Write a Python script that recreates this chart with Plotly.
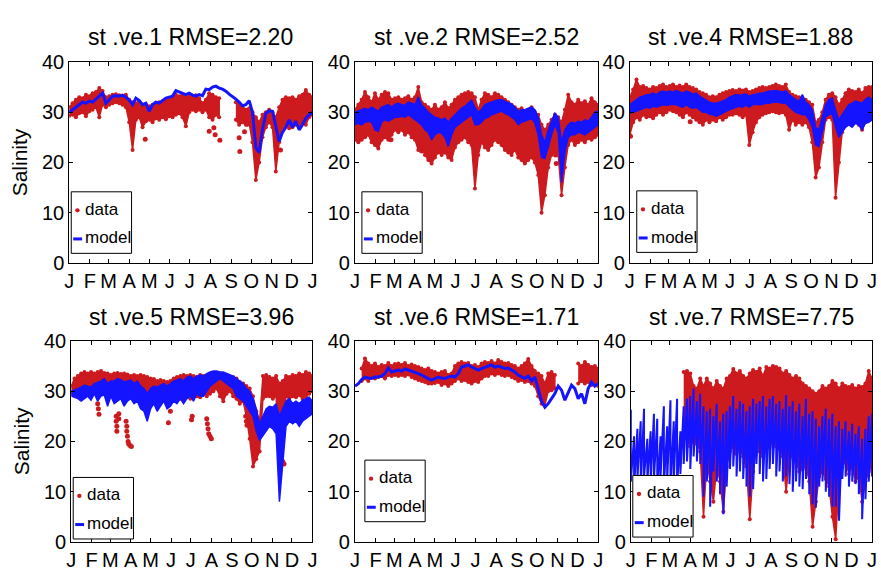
import plotly.graph_objects as go

W, H = 881, 575
N = None

DAYS = list(range(0, 366, 5))
MONTH_DAYS = [0, 31, 59, 90, 120, 151, 181, 212, 243, 273, 304, 334, 365]
MONTH_LABELS = ["J", "F", "M", "A", "M", "J", "J", "A", "S", "O", "N", "D", "J"]
Y_TICKS = [0, 10, 20, 30, 40]
LEGEND_LABELS = ["data", "model"]

TITLES = ["st .ve.1 RMSE=2.20", "st .ve.2 RMSE=2.52", "st .ve.4 RMSE=1.88",
          "st .ve.5 RMSE=3.96", "st .ve.6 RMSE=1.71", "st .ve.7 RMSE=7.75"]

# ---------------- st .ve.1 ----------------
S1_DATA_LO = [29.3, 29.5, 29.0, 29.8, 30.0, 29.2, 30.2, 30.5, 31.0, 29.0,
              31.5, 31.0, 31.5, 31.8, 32.0, 31.8, 31.5, 31.0, 28.0, 22.5,
              28.5, 29.0, 27.0, 28.2, 28.5, 28.0, 28.8, 28.5, 29.0, 28.6,
              29.2, 29.0, 29.5, 29.8, 29.0, 27.2, 30.0, 30.5, 30.2, 30.5,
              30.0, 30.5, 29.0, 28.5, 29.5, 29.0, N, N, N, N,
              28.5, 27.5, 28.0, 27.5, 27.8, 24.0, 16.5, 20.0, 25.0, 27.0,
              28.0, 27.0, 18.2, 24.0, 27.0, 27.5, 26.8, 27.0, 27.5, 27.2,
              28.0, 27.5, 29.0, 29.5]
S1_DATA_HI = [31.0, 31.8, 32.5, 33.0, 32.8, 33.5, 33.2, 33.8, 34.0, 34.8,
              34.2, 33.0, 33.2, 33.5, 33.6, 33.4, 33.2, 33.5, 32.5, 32.0,
              31.8, 32.2, 31.5, 31.5, 31.2, 31.5, 31.8, 32.0, 32.2, 32.5,
              32.5, 33.0, 33.5, 33.2, 33.5, 33.0, 33.2, 33.0, 33.4, 32.8,
              31.8, 32.5, 33.8, 33.5, 33.0, 32.8, N, N, N, N,
              32.0, 31.5, 31.0, 30.5, 30.8, 30.0, 29.0, 28.0, 29.5, 30.0,
              30.5, 30.0, 29.0, 31.0, 32.5, 33.0, 32.8, 33.0, 32.5, 33.2,
              33.5, 34.4, 33.5, 33.0]
S1_MODEL = [30.0, 30.6, 31.0, 31.5, 32.0, 31.8, 32.2, 32.0, 32.6, 33.0,
            33.8, 31.8, 32.6, 33.2, 33.3, 33.2, 33.4, 33.0, 32.4, 31.5,
            32.8, 32.3, 31.5, 31.8, 30.2, 31.5, 32.0, 31.8, 32.3, 32.8,
            33.0, 33.2, 34.3, 34.0, 33.8, 33.5, 33.8, 33.4, 33.2, 33.5,
            33.3, 34.6, 34.5, 35.0, 35.2, 34.8, 34.6, 34.2, 33.6, 33.0,
            32.6, 32.0, 31.3, 31.5, 32.3, 30.0, 23.0, 22.0, 26.5, 29.8,
            30.3, 30.2, 27.5, 24.2, 26.0, 27.0, 28.5, 27.0, 28.2, 26.5,
            27.5, 28.8, 29.5, 30.0]
S1_OUT_DAY = [114, 210, 217, 219, 226, 255, 256, 263, 267, 317]
S1_OUT_VAL = [24.6, 26.2, 26.9, 25.5, 24.4, 24.9, 22.2, 26.1, 27.6, 22.5]

# ---------------- st .ve.2 ----------------
S2_DATA_LO = [24.5, 24.0, 24.5, 25.0, 25.5, 24.0, 23.5, 22.8, 24.5, 25.0,
              24.5, 25.5, 26.5, 26.0, 26.5, 25.5, 26.0, 25.0, 24.5, 22.5,
              23.0, 21.5, 20.5, 19.8, 21.0, 22.0, 21.5, 22.0, 21.0, 20.5,
              23.0, 24.0, 24.5, 25.0, 24.0, 23.5, 14.8, 21.5, 24.0, 23.0,
              22.5, 23.5, 24.5, 24.0, 23.5, 22.5, 22.0, 21.5, 22.5, 21.0,
              20.5, 19.8, 20.5, 21.0, 20.0, 17.5, 10.0, 13.5, 19.0, 21.5,
              22.0, 21.5, 13.5, 19.0, 23.5, 24.5, 23.5, 24.0, 24.5, 24.0,
              24.8, 24.5, 25.0, 25.5]
S2_DATA_HI = [30.5, 31.5, 32.5, 34.0, 33.0, 32.0, 33.8, 32.5, 33.5, 34.0,
              33.8, 32.5, 32.8, 33.0, 32.5, 32.8, 33.2, 32.5, 33.0, 35.0,
              32.0, 31.5, 31.0, 30.5, 31.5, 30.5, 31.0, 32.0, 30.8, 31.5,
              32.5, 33.0, 33.5, 33.8, 34.0, 33.8, 33.0, 30.5, 32.5, 33.8,
              33.5, 33.0, 33.8, 33.5, 33.0, 32.5, 32.0, 31.5, 31.0, 30.5,
              30.8, 30.2, 30.5, 31.0, 30.0, 29.5, 27.5, 26.5, 27.5, 28.5,
              29.5, 29.0, 28.0, 30.5, 33.5, 32.0, 31.5, 32.5, 31.8, 32.2,
              31.5, 32.8, 32.0, 31.5]
S2_MODEL_LO = [27.5, 27.8, 27.5, 28.0, 28.2, 28.0, 26.5, 26.2, 28.0, 28.5,
               28.2, 28.6, 29.0, 29.0, 29.2, 29.0, 29.5, 29.0, 28.5, 28.0,
               27.5, 26.5, 26.0, 24.5, 25.5, 26.0, 25.8, 25.0, 23.2, 25.5,
               27.0, 27.5, 28.0, 28.5, 29.0, 29.5, 27.5, 27.5, 28.0, 28.8,
               29.0, 29.5, 29.8, 30.0, 30.2, 29.8, 29.5, 29.0, 28.5, 27.5,
               28.0, 28.2, 28.5, 28.8, 27.8, 25.5, 21.0, 20.8, 23.0, 25.5,
               27.5, 26.0, 16.0, 22.0, 25.0, 25.5, 25.5, 26.0, 25.8, 25.5,
               26.0, 26.5, 27.0, 27.5]
S2_MODEL_HI = [30.0, 30.2, 30.5, 30.8, 30.5, 31.0, 30.6, 30.2, 31.0, 31.2,
               31.5, 31.0, 31.6, 31.8, 31.5, 31.4, 32.0, 31.8, 31.5, 33.0,
               31.5, 30.8, 30.0, 29.5, 29.0, 28.8, 28.5, 28.8, 28.0, 28.8,
               29.5, 30.2, 30.8, 31.2, 31.8, 32.4, 31.0, 30.0, 30.6, 31.5,
               31.8, 32.0, 32.2, 32.5, 32.5, 32.2, 32.0, 31.6, 31.0, 30.2,
               30.5, 30.5, 30.8, 31.0, 30.5, 29.0, 25.5, 24.0, 26.5, 28.0,
               29.8, 29.0, 24.0, 26.5, 27.5, 28.0, 27.8, 28.2, 28.0, 28.5,
               28.2, 29.0, 30.0, 30.2]
S2_OUT_DAY = [50, 54, 96, 100, 224, 301, 302]
S2_OUT_VAL = [25.9, 24.5, 24.0, 22.3, 24.6, 21.5, 19.8]

# ---------------- st .ve.4 ----------------
S3_DATA_LO = [25.5, 28.0, 29.0, 28.5, 29.5, 29.0, 29.2, 28.8, 29.5, 30.0,
              29.5, 30.0, 30.5, 30.2, 30.0, 29.5, 29.0, 30.0, 29.5, 29.0,
              28.5, 28.0, 27.5, 28.5, 28.0, 28.5, 28.2, 29.0, 28.5, 29.0,
              29.5, 29.5, 29.8, 29.5, 29.0, 29.5, 23.5, 26.0, 28.0, 29.0,
              29.5, 29.8, 30.0, 30.2, 30.0, 29.8, 30.0, 29.5, 26.5, 28.5,
              27.5, 28.0, 27.5, 28.0, 27.0, 24.0, 17.0, 19.0, 24.0, 28.5,
              29.0, 28.5, 13.0, 20.0, 26.0, 28.0, 28.5, 27.5, 28.0, 27.5,
              26.5, 28.0, 28.5, 29.0]
S3_DATA_HI = [33.0, 34.5, 36.5, 35.0, 35.2, 34.8, 34.5, 35.0, 34.8, 35.2,
              35.5, 35.0, 35.2, 35.5, 35.0, 35.3, 35.0, 35.5, 35.0, 34.8,
              34.5, 34.0, 33.8, 33.5, 33.0, 33.2, 33.0, 33.5, 33.8, 34.0,
              34.2, 34.4, 34.2, 34.5, 34.3, 34.5, 34.0, 34.2, 34.5, 34.8,
              35.0, 34.8, 35.0, 35.2, 35.5, 35.2, 35.0, 35.5, 34.0, 33.5,
              33.2, 33.0, 32.8, 32.5, 32.0, 31.5, 28.0, 28.5, 30.0, 32.5,
              33.5, 33.8, 33.0, 31.5, 32.5, 33.8, 34.5, 34.2, 34.0, 34.5,
              33.8, 34.8, 35.0, 35.0]
S3_MODEL_LO = [29.8, 30.0, 30.2, 30.5, 30.8, 31.0, 30.8, 31.2, 31.0, 31.2,
               31.5, 31.4, 31.5, 31.6, 31.5, 31.2, 31.0, 31.5, 31.0, 30.8,
               31.0, 30.5, 30.0, 30.0, 29.6, 29.5, 29.2, 29.5, 29.8, 30.2,
               30.5, 30.8, 31.0, 31.2, 31.0, 31.4, 31.0, 31.5, 31.6, 31.5,
               31.6, 31.8, 31.8, 32.0, 32.0, 32.0, 31.8, 31.8, 31.2, 30.5,
               30.0, 29.8, 29.5, 29.5, 28.5, 27.0, 23.5, 23.2, 26.0, 29.0,
               29.5, 29.8, 27.0, 25.0, 26.0, 27.0, 27.5, 27.0, 27.8, 27.5,
               26.5, 27.8, 28.0, 28.5]
S3_MODEL_HI = [31.5, 32.0, 32.5, 33.0, 33.2, 33.5, 33.5, 33.8, 33.5, 34.0,
               34.2, 34.0, 34.2, 34.0, 34.3, 34.0, 33.8, 34.2, 34.0, 33.6,
               33.8, 33.2, 32.8, 32.5, 32.0, 31.8, 31.8, 32.0, 32.2, 32.5,
               33.0, 33.2, 33.5, 33.4, 33.5, 33.6, 33.2, 33.5, 33.6, 33.8,
               33.8, 34.0, 34.2, 34.2, 34.3, 34.2, 34.0, 34.3, 33.5, 33.0,
               32.5, 32.2, 33.5, 32.0, 31.5, 30.5, 27.0, 26.5, 29.0, 31.5,
               32.5, 32.8, 30.5, 28.5, 29.5, 30.5, 31.5, 31.8, 32.2, 32.0,
               31.8, 32.5, 33.0, 32.5]
S3_OUT_DAY = [1, 91]
S3_OUT_VAL = [25.2, 28.1]

# ---------------- st .ve.5 ----------------
S4_DATA_LO = [29.5, 29.8, 30.0, 30.5, 31.0, 31.2, 31.0, 30.5, 30.5, 31.5,
              31.2, 31.0, 31.5, 30.8, 31.0, 30.8, 30.5, 30.5, 30.0, 30.5,
              30.8, 30.5, 30.0, 29.8, 29.5, 29.8, 29.5, 29.6, 29.0, 28.5,
              29.0, 28.8, 29.0, 28.5, 28.5, 29.0, 28.5, 29.5, 29.0, 28.8,
              29.5, 29.0, 29.5, 30.0, 30.5, 29.0, 28.0, 29.5, 30.0, 29.0,
              28.5, 27.5, 28.0, 25.0, 20.5, 15.0, 16.5, 18.0, 28.5, 29.0,
              29.0, 28.5, 29.0, 16.0, 22.0, 29.0, 28.5, 29.0, 28.8, 29.2,
              28.5, 29.0, 29.5, 30.0]
S4_DATA_HI = [31.0, 32.5, 33.0, 33.5, 33.8, 33.5, 33.8, 33.5, 33.8, 34.0,
              33.6, 33.5, 33.2, 33.5, 33.6, 33.4, 33.5, 33.3, 33.0, 33.2,
              33.0, 33.2, 33.0, 32.8, 32.5, 32.4, 32.0, 32.2, 32.0, 31.8,
              32.0, 32.5, 32.8, 33.0, 33.2, 33.0, 33.2, 33.0, 32.8, 33.2,
              33.0, 32.8, 33.0, 32.8, 32.6, 32.5, 32.2, 32.4, 32.6, 32.8,
              32.5, 31.8, 31.5, 31.0, 30.5, 29.0, 26.0, 24.0, 33.0, 33.2,
              32.8, 32.5, 33.0, 31.5, 32.0, 33.0, 32.8, 33.2, 33.0, 33.5,
              33.2, 33.8, 33.5, 33.0]
S4_MODEL_LO = [29.0, 28.8, 28.5, 28.0, 28.5, 29.0, 28.2, 29.5, 28.0, 29.0,
               29.2, 27.0, 29.0, 27.5, 28.0, 28.5, 27.0, 28.0, 28.5, 27.5,
               28.0, 26.5, 26.0, 24.0, 26.5, 27.5, 26.0, 27.0, 28.0, 26.5,
               27.0, 28.0, 27.5, 28.5, 27.5, 28.5, 29.0, 28.0, 29.5, 29.0,
               29.0, 30.0, 31.0, 31.5, 32.0, 32.5, 32.0, 31.5, 31.0, 30.5,
               29.0, 28.5, 28.0, 27.0, 26.0, 25.0, 22.0, 20.2, 21.0, 22.0,
               23.0, 22.5, 21.5, 8.0, 16.0, 23.0, 24.0, 23.5, 24.0, 23.0,
               24.0, 24.5, 25.0, 25.5]
S4_MODEL_HI = [30.0, 30.2, 30.5, 30.8, 31.2, 31.0, 30.8, 31.5, 31.8, 32.0,
               32.5, 31.5, 32.0, 32.0, 32.5, 32.3, 31.8, 32.0, 32.2, 31.5,
               32.0, 31.0, 30.5, 29.5, 30.5, 31.0, 30.8, 31.2, 31.5, 31.0,
               31.5, 32.0, 32.2, 32.5, 32.0, 32.8, 33.0, 32.5, 33.0, 33.2,
               33.0, 33.5, 33.8, 34.0, 34.0, 33.8, 33.8, 33.5, 33.2, 33.0,
               32.5, 32.0, 31.5, 30.5, 30.0, 28.5, 26.5, 23.5, 25.0, 26.5,
               27.0, 26.8, 27.5, 25.0, 26.5, 28.0, 28.5, 27.5, 28.0, 27.5,
               28.2, 28.5, 28.8, 28.0]
S4_OUT_DAY = [40, 41, 42, 68, 68, 69, 69, 72, 72, 83, 84, 84, 85, 86, 87, 89, 91,
              147, 150, 182, 183, 205, 206, 207, 208, 210, 212, 264, 265, 266,
              318, 320, 322]
S4_OUT_VAL = [27.5, 26.5, 25.4, 25.0, 24.0, 23.0, 22.0, 25.5, 24.5, 24.0, 23.0,
              22.0, 21.0, 20.0, 19.5, 19.2, 19.0, 23.7, 26.0, 24.3, 25.0, 24.5,
              23.5, 22.5, 21.5, 21.0, 20.5, 25.0, 24.0, 23.2, 17.5, 16.0, 15.5]

# ---------------- st .ve.6 ----------------
S5_DATA_LO = [N, N, 32.0, 32.5, 32.0, 32.8, 32.5, 32.8, 33.0, 32.5,
              33.2, 33.0, 33.2, 33.0, 33.2, 33.0, 33.3, 32.8, 32.5, 32.2,
              32.0, 31.8, 31.5, 31.5, 31.6, 31.8, 31.2, 31.5, 31.0, 31.5,
              32.0, 32.5, 32.0, 32.2, 31.8, 31.5, 32.0, 31.8, 32.5, 33.0,
              33.0, 33.5, 33.2, 33.5, 33.2, 33.0, 33.2, 32.8, 32.5, 32.0,
              32.2, 31.8, 32.0, 31.5, 31.0, 29.0, 27.5, 27.2, 30.0, 30.2,
              30.5, N, N, N, N, N, N, 31.5, 32.0, 31.5,
              31.8, 31.2, 31.5, 31.0]
S5_DATA_HI = [N, N, 34.5, 36.5, 35.5, 35.0, 35.5, 34.8, 35.2, 35.0,
              35.6, 35.0, 35.4, 35.5, 35.2, 35.6, 35.0, 35.3, 35.0, 34.8,
              34.5, 34.2, 34.5, 34.0, 33.8, 33.5, 33.8, 34.0, 33.2, 33.5,
              35.0, 35.5, 35.8, 35.5, 35.6, 35.0, 35.2, 34.8, 35.5, 35.8,
              35.6, 36.0, 35.5, 36.2, 35.8, 35.5, 35.6, 35.2, 35.0, 34.5,
              35.0, 35.5, 36.4, 35.0, 34.0, 33.5, 33.0, 31.5, 33.5, 33.8,
              33.2, N, N, N, N, N, N, 35.5, 35.0, 35.8,
              35.2, 34.8, 35.0, 34.5]
S5_MODEL = [31.0, 31.5, 32.3, 32.8, 32.6, 32.5, 32.8, 32.8, 33.0, 33.5,
            34.6, 33.8, 34.0, 34.2, 34.0, 34.4, 34.2, 34.0, 33.8, 33.5,
            33.2, 32.8, 32.5, 32.2, 32.5, 32.8, 32.6, 32.5, 32.8, 33.0,
            32.8, 33.5, 34.8, 35.0, 35.2, 34.8, 34.5, 34.2, 34.5, 34.8,
            35.0, 35.2, 34.8, 35.0, 34.8, 34.5, 34.6, 34.2, 33.8, 33.2,
            32.8, 32.5, 33.0, 32.0, 32.8, 30.5, 28.0, 26.8, 27.5, 28.5,
            29.5, 31.0, 30.2, 28.2, 29.8, 31.2, 30.5, 28.5, 29.5, 27.5,
            30.5, 31.8, 31.0, 31.5]
S5_OUT_DAY = []
S5_OUT_VAL = []

# ---------------- st .ve.7 ----------------
S6_DATA_LO = [N, N, N, N, N, N, N, N, N, N,
              N, N, N, N, N, N, 21.0, 20.5, 19.0, 20.0,
              19.5, 18.0, 5.0, 16.0, 12.0, 8.0, 15.0, 12.0, 6.0, 15.0,
              18.0, 19.0, 17.5, 18.5, 17.0, 15.0, 4.5, 14.0, 19.5, 18.0,
              17.0, 18.5, 19.0, 20.0, 19.0, 18.5, 17.0, 10.0, 16.5, 17.0,
              16.0, 14.0, 14.5, 15.0, 12.0, 3.0, 8.0, 13.0, 14.0, 12.5,
              11.0, 5.0, 0.5, 12.0, 15.0, 16.0, 13.5, 15.0, 12.0, 13.0,
              8.0, 12.0, 14.0, 15.0]
S6_DATA_HI = [N, N, N, N, N, N, N, N, N, N,
              N, N, N, N, N, N, 33.8, 34.0, 33.5, 31.0,
              30.5, 32.5, 31.0, 32.5, 31.5, 30.5, 32.0, 31.0, 30.5, 32.5,
              33.0, 34.4, 33.5, 34.0, 33.0, 32.5, 33.5, 34.2, 33.8, 34.5,
              33.0, 34.8, 34.5, 35.0, 34.8, 34.5, 33.5, 34.0, 33.2, 32.5,
              33.0, 32.5, 31.5, 31.0, 30.5, 30.0, 29.5, 30.0, 31.0, 30.5,
              31.0, 32.0, 31.5, 30.5, 31.5, 31.0, 30.8, 31.2, 30.5, 31.0,
              30.8, 31.5, 34.0, 32.5]
S6_MODEL_LO = [12.0, 11.0, 12.5, 10.5, 13.0, 12.0, 11.5, 12.5, 10.0, 13.0,
               11.0, 12.0, 10.5, 12.0, 11.0, 13.5, 15.5, 16.0, 14.5, 17.0,
               16.0, 15.5, 9.0, 12.0, 7.0, 14.0, 12.0, 9.5, 5.5, 11.0,
               14.5, 15.0, 13.0, 14.0, 12.5, 11.0, 9.0, 10.5, 15.5, 13.5,
               12.0, 12.5, 14.5, 15.5, 13.0, 14.0, 12.0, 13.0, 11.5, 10.0,
               12.0, 11.0, 10.5, 12.5, 9.5, 7.5, 6.8, 11.0, 12.0, 10.0,
               9.0, 7.0, 7.0, 4.2, 12.5, 13.0, 11.0, 12.0, 11.5, 9.5,
               4.5, 8.5, 12.0, 13.0]
S6_MODEL_HI = [26.3, 21.0, 22.5, 24.0, 26.5, 20.5, 22.0, 25.5, 24.5, 21.0,
               27.0, 23.0, 28.2, 24.0, 28.5, 22.0, 27.0, 28.5, 29.0, 30.5,
               28.0, 29.5, 27.0, 26.0, 26.5, 25.0, 27.5, 24.0, 25.5, 26.0,
               27.0, 29.0, 26.5, 28.0, 27.5, 26.0, 27.0, 28.5, 27.5, 28.0,
               29.0, 27.0, 28.5, 29.0, 27.5, 28.0, 26.5, 29.2, 27.0, 28.0,
               26.0, 27.5, 25.0, 28.5, 25.5, 26.0, 24.5, 23.0, 25.0, 26.5,
               24.5, 25.5, 23.0, 24.0, 22.5, 24.0, 22.0, 23.5, 21.5, 23.0,
               20.5, 22.5, 25.0, 25.5]
S6_OUT_DAY = []
S6_OUT_VAL = []

STATIONS = [
    dict(lo=S1_DATA_LO, hi=S1_DATA_HI, mlo=S1_MODEL, mhi=None, ms="line", od=S1_OUT_DAY, ov=S1_OUT_VAL),
    dict(lo=S2_DATA_LO, hi=S2_DATA_HI, mlo=S2_MODEL_LO, mhi=S2_MODEL_HI, ms="band", od=S2_OUT_DAY, ov=S2_OUT_VAL),
    dict(lo=S3_DATA_LO, hi=S3_DATA_HI, mlo=S3_MODEL_LO, mhi=S3_MODEL_HI, ms="band", od=S3_OUT_DAY, ov=S3_OUT_VAL),
    dict(lo=S4_DATA_LO, hi=S4_DATA_HI, mlo=S4_MODEL_LO, mhi=S4_MODEL_HI, ms="band", od=S4_OUT_DAY, ov=S4_OUT_VAL),
    dict(lo=S5_DATA_LO, hi=S5_DATA_HI, mlo=S5_MODEL, mhi=None, ms="line", od=S5_OUT_DAY, ov=S5_OUT_VAL),
    dict(lo=S6_DATA_LO, hi=S6_DATA_HI, mlo=S6_MODEL_LO, mhi=S6_MODEL_HI, ms="zigzag", od=S6_OUT_DAY, ov=S6_OUT_VAL),
]

RED = "#CC1A1E"
BLUE = "#1414FF"
FONT = "Liberation Sans, Arial, Helvetica, sans-serif"

# panel boxes in pixels: left, right, top, bottom
BOXES = [(65, 311, 53, 262), (354, 600, 53, 262), (632, 877, 53, 262),
         (67, 311, 343, 552), (354, 600, 343, 552), (633, 877, 343, 552)]
LEGEND_POS = [(67, 188), (361, 188), (639, 187), (69, 485), (364, 467), (635, 483)]
LEG_W, LEG_H = 61, 64
TITLE_Y = [27, 27, 27, 318, 318, 318]


def zigzag(days, lo, hi):
    xs, ys = [], []
    for d, a, b in zip(days, lo, hi):
        if a is None or b is None:
            xs.append(None)
            ys.append(None)
        else:
            xs += [d, d]
            ys += [b, a]
    return xs, ys


def band(days, lo, hi):
    xs, ys, run = [], [], []

    def flush():
        if run:
            xs.extend([p[0] for p in run] + [p[0] for p in reversed(run)] + [None])
            ys.extend([p[2] for p in run] + [p[1] for p in reversed(run)] + [None])
            run.clear()

    for d, a, b in zip(days, lo, hi):
        if a is None or b is None:
            flush()
        else:
            run.append((d, a, b))
    flush()
    return xs, ys


def px(x):
    return x / W


def py(y):
    return 1 - y / H


fig = go.Figure()
layout = dict()
annotations = []
shapes = []

for k, st in enumerate(STATIONS):
    n = k + 1
    xa = "x" if n == 1 else f"x{n}"
    ya = "y" if n == 1 else f"y{n}"

    bx, by = band(DAYS, st["lo"], st["hi"])
    fig.add_trace(go.Scatter(x=bx, y=by, mode="lines+markers", fill="toself", fillcolor=RED,
                             line=dict(color=RED, width=1.5), marker=dict(color=RED, size=4),
                             name="data", showlegend=False, xaxis=xa, yaxis=ya,
                             hoverinfo="skip"))
    if st["od"]:
        fig.add_trace(go.Scatter(x=st["od"], y=st["ov"], mode="markers", name="data",
                                 marker=dict(color=RED, size=5), showlegend=False,
                                 xaxis=xa, yaxis=ya))
    if st["ms"] == "line":
        fig.add_trace(go.Scatter(x=DAYS, y=st["mlo"], mode="lines", name="model",
                                 line=dict(color=BLUE, width=3), showlegend=False,
                                 xaxis=xa, yaxis=ya))
    elif st["ms"] == "band":
        mx, my = band(DAYS, st["mlo"], st["mhi"])
        fig.add_trace(go.Scatter(x=mx, y=my, mode="lines", fill="toself", fillcolor=BLUE,
                                 line=dict(color=BLUE, width=1.5), name="model",
                                 showlegend=False, xaxis=xa, yaxis=ya))
    else:
        mx, my = zigzag(DAYS, st["mlo"], st["mhi"])
        fig.add_trace(go.Scatter(x=mx, y=my, mode="lines", name="model",
                                 line=dict(color=BLUE, width=2),
                                 showlegend=False, xaxis=xa, yaxis=ya))

    l, r, t, b = BOXES[k]
    xkey = "xaxis" if n == 1 else f"xaxis{n}"
    ykey = "yaxis" if n == 1 else f"yaxis{n}"
    layout[xkey] = dict(domain=[px(l), px(r)], anchor=ya, range=[0, 365],
                        tickvals=MONTH_DAYS, ticktext=MONTH_LABELS,
                        ticks="inside", ticklen=4, tickcolor="black",
                        showline=True, linecolor="black", linewidth=1, mirror="allticks",
                        showgrid=False, zeroline=False,
                        tickfont=dict(family=FONT, size=20, color="black"))
    layout[ykey] = dict(domain=[py(b), py(t)], anchor=xa, range=[0, 40],
                        tickvals=Y_TICKS, ticks="inside", ticklen=4, tickcolor="black",
                        showline=True, linecolor="black", linewidth=1, mirror="allticks",
                        showgrid=False, zeroline=False,
                        tickfont=dict(family=FONT, size=20, color="black"))
    if k % 3 == 0:
        layout[ykey]["title"] = dict(text="Salinity", standoff=8,
                                     font=dict(family=FONT, size=21, color="black"))

    # legend box drawn inside each panel
    lx, ly = LEGEND_POS[k]
    shapes.append(dict(type="rect", xref="paper", yref="paper",
                       x0=px(lx), x1=px(lx + LEG_W), y0=py(ly + LEG_H), y1=py(ly),
                       line=dict(color="black", width=1), fillcolor="white", layer="above"))
    shapes.append(dict(type="circle", xref="paper", yref="paper",
                       x0=px(lx + 4), x1=px(lx + 8.5), y0=py(ly + 21.5), y1=py(ly + 17),
                       line=dict(color=RED, width=0), fillcolor=RED, layer="above"))
    shapes.append(dict(type="line", xref="paper", yref="paper",
                       x0=px(lx + 2), x1=px(lx + 11), y0=py(ly + 49), y1=py(ly + 49),
                       line=dict(color=BLUE, width=3), layer="above"))
    for label, off in zip(LEGEND_LABELS, (18, 48)):
        annotations.append(dict(text=label, x=px(lx + 12), y=py(ly + off),
                                xref="paper", yref="paper", xanchor="left", yanchor="middle",
                                showarrow=False,
                                font=dict(family=FONT, size=17, color="black")))

    annotations.append(dict(text=TITLES[k], x=px((l + r) / 2), y=py(TITLE_Y[k]),
                            xref="paper", yref="paper", xanchor="center", yanchor="middle",
                            showarrow=False,
                            font=dict(family=FONT, size=23, color="black")))

fig.update_layout(width=W, height=H, margin=dict(l=0, r=0, t=0, b=0),
                  paper_bgcolor="white", plot_bgcolor="white", showlegend=False,
                  annotations=annotations, shapes=shapes, **layout)

fig.write_html("out.html", config={"displayModeBar": False},
               post_script="document.body.style.margin='0';")
